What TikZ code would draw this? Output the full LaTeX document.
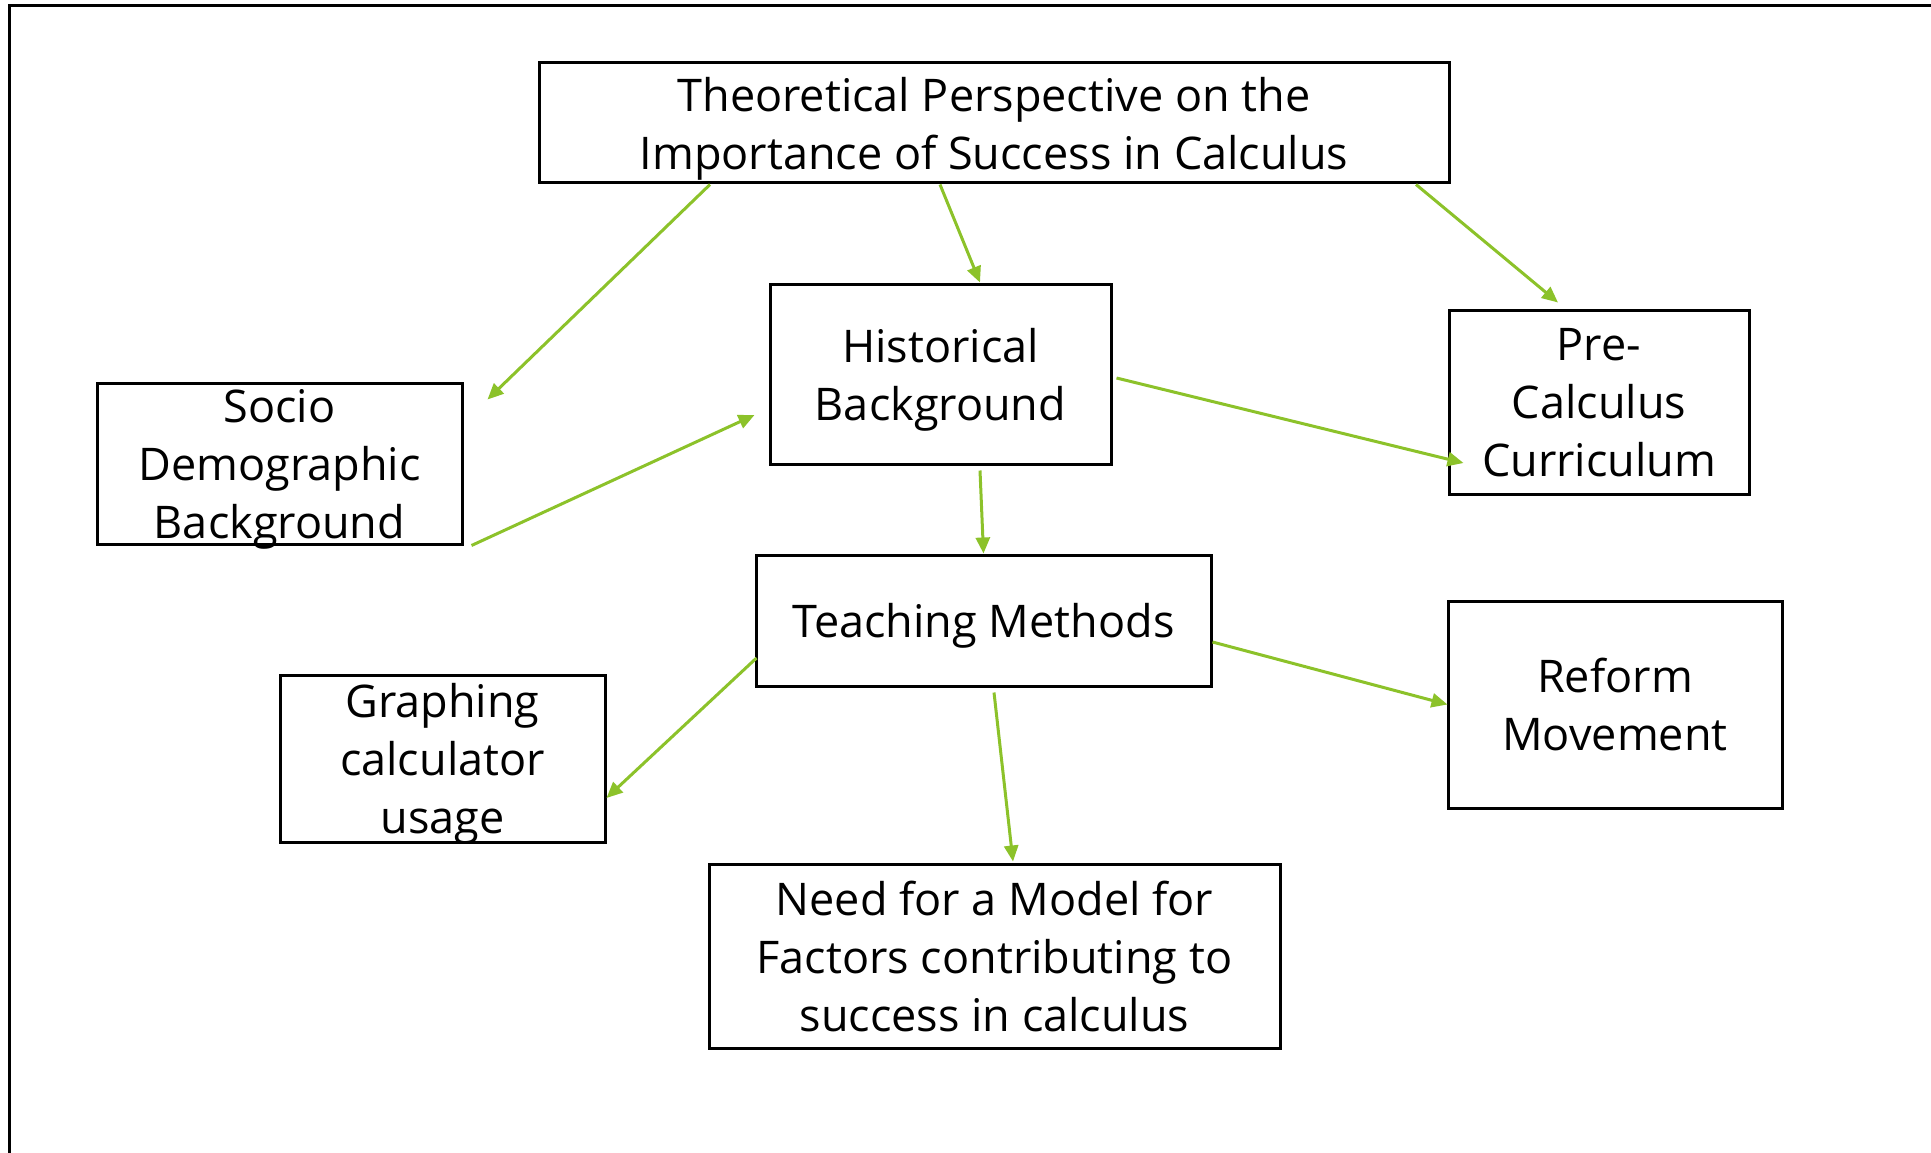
\documentclass[tikz,border=0pt]{standalone}
\usepackage{fontspec}
\setmainfont[Ligatures=NoCommon]{Open Sans}
\usetikzlibrary{arrows.meta,calc}
\definecolor{linkgreen}{RGB}{140,194,42}
\begin{document}
\begin{tikzpicture}[x=1pt,y=-1pt,
  box/.style={draw=black,line width=3pt,inner sep=0pt,align=center,
    text depth=0pt,font=\fontsize{45}{58}\selectfont,text=black},
  link/.style={draw=linkgreen,line width=3pt,
    -{Triangle[length=16pt,width=14pt]}}]
\useasboundingbox (0,0) rectangle (1931,1153);
% page frame (top and left edges)
\draw[line width=3.6pt] (9.5,1160) -- (9.5,5.5) -- (1940,5.5);

% boxes
\node[box,minimum width=910pt,minimum height=120pt] (top) at (994,123)
  {Theoretical Perspective on the\\Importance of Success in Calculus};
\node[box,minimum width=341pt,minimum height=180pt] (hist) at (940.5,374)
  {Historical\\Background};
\node[box,minimum width=300pt,minimum height=184pt] (pre) at (1599,402)
  {Pre-\\Calculus\\Curriculum};
\node[box,minimum width=365pt,minimum height=161pt] (socio) at (279.5,463.5)
  {Socio\\Demographic\\Background};
\node[box,minimum width=455pt,minimum height=131pt] (teach) at (983.5,620.5)
  {Teaching Methods};
\node[box,minimum width=325pt,minimum height=167pt] (graph) at (442.5,758.5)
  {Graphing\\calculator\\usage};
\node[box,minimum width=334pt,minimum height=207pt] (reform) at (1615,704.5)
  {Reform\\Movement};
\node[box,minimum width=571pt,minimum height=184pt] (need) at (994.5,956)
  {Need for a Model for\\Factors contributing to\\success in calculus};

% free end of the arrow pointing at the socio-demographic box
\coordinate (socioin) at ($(socio.north east)+(24,18)$);

% connectors
\draw[link] ($(top.south)+(-54,0)$) -- ($(hist.north)+(39.5,0)$);
\draw[link] ($(top.south)+(-284,0)$) -- (socioin);
\draw[link] ($(top.south)+(422,0)$) -- ($(pre.north)+(-41,-6)$);
\draw[link] ($(socio.south east)+(8,0)$) -- ($(hist.west)+(-14,41)$);
\draw[link] ($(hist.east)+(4,4)$) -- ($(pre.west)+(16,61)$);
\draw[link] ($(hist.south)+(39.5,5)$) -- (teach.north);
\draw[link] ($(teach.west)+(2,37.5)$) -- ($(graph.east)+(0,39.5)$);
\draw[link] ($(teach.east)+(0,21.5)$) -- ($(reform.west)+(1,0)$);
\draw[link] ($(teach.south)+(10.5,5)$) -- ($(need.north)+(18.5,-1)$);
\end{tikzpicture}
\end{document}
